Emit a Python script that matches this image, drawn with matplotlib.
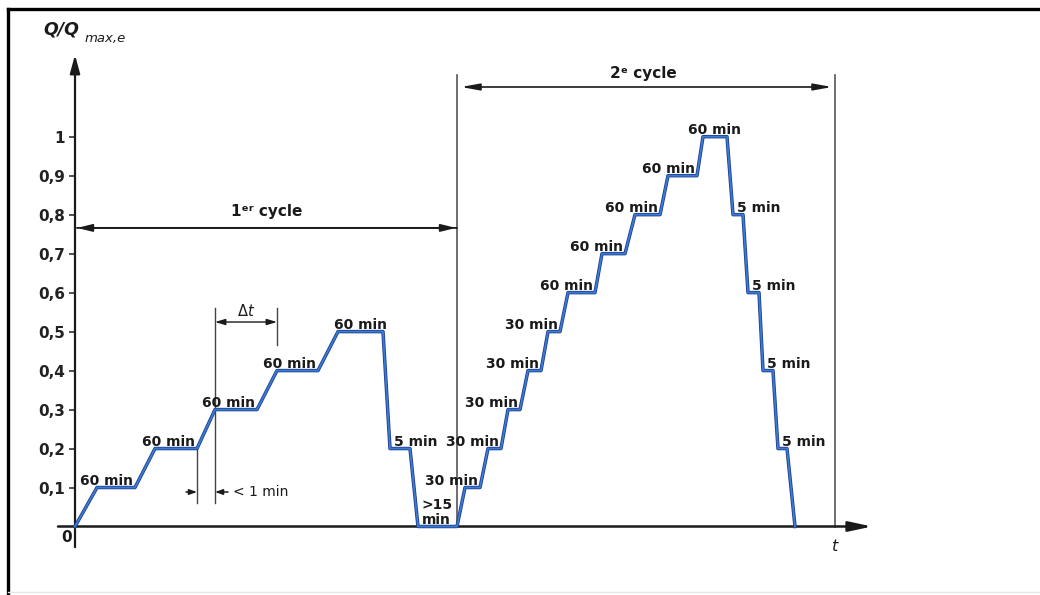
import matplotlib
matplotlib.use("Agg")
import matplotlib.pyplot as plt
import matplotlib.patheffects as pe
from matplotlib.lines import Line2D

# Loading schedule: breakpoints on the (schematic) time axis and relative load Q/Qmax,e
t_sched = [0, 22, 60, 80, 122, 140, 182, 202, 243, 263, 308, 315, 335, 343, 382,
           390, 405, 413, 426, 433, 445, 453, 466, 473, 485, 493, 520, 527, 550,
           560, 585, 593, 622, 628, 652, 658, 668, 673, 684, 688, 698, 703, 712, 720]
q_level = [0.0, 0.1, 0.1, 0.2, 0.2, 0.3, 0.3, 0.4, 0.4, 0.5, 0.5, 0.2, 0.2, 0.0, 0.0,
           0.1, 0.1, 0.2, 0.2, 0.3, 0.3, 0.4, 0.4, 0.5, 0.5, 0.6, 0.6, 0.7, 0.7,
           0.8, 0.8, 0.9, 0.9, 1.0, 1.0, 0.8, 0.8, 0.6, 0.6, 0.4, 0.4, 0.2, 0.2, 0.0]

# Duration of each hold (one label per plateau, in order)
hold_labels = (["60 min"] * 5 + ["5 min", ">15\nmin"] + ["30 min"] * 5
               + ["60 min"] * 5 + ["5 min"] * 4)

cycle2_start = t_sched[14]
cycle_end = 760

y_ticks = [0.1, 0.2, 0.3, 0.4, 0.5, 0.6, 0.7, 0.8, 0.9, 1.0]
y_tick_labels = ["0,1", "0,2", "0,3", "0,4", "0,5", "0,6", "0,7", "0,8", "0,9", "1"]

W, H, DPI = 1040, 595, 100
PX_PER_Q = 389.8          # vertical scale in pixels per unit load
PX = 72.0 / DPI           # one pixel in points

fig = plt.figure(figsize=(W / DPI, H / DPI), dpi=DPI, facecolor="white")
x0_px, y0_px, x1_px, y1_px = 75, 526.5, 872, 58
ax = fig.add_axes([x0_px / W, (H - y0_px) / H, (x1_px - x0_px) / W, (y0_px - y1_px) / H])
ax.set_xlim(0, x1_px - x0_px)
ax.set_ylim(0, (y0_px - y1_px) / PX_PER_Q)
ax.patch.set_alpha(0)
for s in ax.spines.values():
    s.set_visible(False)

ax.set_xticks([])
ax.set_yticks(y_ticks)
ax.set_yticklabels(y_tick_labels, fontsize=11, fontweight="bold", color="#1a1a1a")
ax.tick_params(axis="y", direction="out", length=4, width=1.1, pad=3, colors="#222")

ink = "#1a1a1a"

def arrow(xy_from, xy_to, lw=1.4, hl=1.1, hw=0.3, both=False, color=ink):
    style = "<|-|>" if both else "-|>"
    ax.annotate("", xy=xy_to, xytext=xy_from, annotation_clip=False,
                arrowprops=dict(arrowstyle=f"{style},head_length={hl},head_width={hw}",
                                lw=lw, color=color, shrinkA=0, shrinkB=0,
                                mutation_scale=10))

# Axes with arrow heads
arrow((0, -0.053), (0, 1.21), lw=1.6, hl=1.1, hw=0.3)
arrow((-17, 0), (797, 0), lw=1.8, hl=1.4, hw=0.3)

# Cycle boundaries and spans
for xc in (cycle2_start, cycle_end):
    ax.plot([xc, xc], [0, 1.158], color="#555555", lw=1.2, clip_on=False, zorder=1)
arrow((cycle2_start, 0.766), (2, 0.766), lw=1.3, hl=0.9, hw=0.22)
arrow((2, 0.766), (cycle2_start - 1, 0.766), lw=1.3, hl=0.9, hw=0.22)
ax.text(192, 0.807, "1ᵉʳ cycle", ha="center", va="center", fontsize=11,
        fontweight="bold", color=ink)
arrow((cycle2_start + 4, 1.1275), (cycle_end - 3, 1.1275), lw=1.2, hl=1.1, hw=0.2, both=True)
ax.text(568, 1.1634, "2ᵉ cycle", ha="center", va="center", fontsize=11,
        fontweight="bold", color=ink)

# Load curve
line, = ax.plot(t_sched, q_level, color="#3a7bd5", lw=1.3, solid_joinstyle="round",
                clip_on=False, zorder=4)
line.set_path_effects([pe.Stroke(linewidth=2.5, foreground="#1f3f8c"), pe.Normal()])

# Hold-duration labels on each plateau
plateaus = [(i, i + 1) for i in range(len(t_sched) - 1) if q_level[i] == q_level[i + 1]]
for (a, b), lab in zip(plateaus, hold_labels):
    q = q_level[a]
    prev_q = q_level[a - 1]
    next_q = q_level[b + 1] if b + 1 < len(q_level) else q
    if prev_q > q:                      # descending branch
        x, ha, dx = t_sched[a], "left", 4
    elif next_q < q:                    # peak hold
        x, ha, dx = (t_sched[a] + t_sched[b]) / 2, "center", 0
    else:                               # ascending branch
        x, ha, dx = t_sched[b], "right", -2
    ax.annotate(lab, xy=(x, q), xytext=(dx * PX, 3 * PX), textcoords="offset points",
                ha=ha, va="baseline", fontsize=10, fontweight="bold", color=ink,
                linespacing=1.05, annotation_clip=False, zorder=5)

# Dimension marks for the ramp time and the hold interval
t_hold_end, t_ramp_end, t_next = t_sched[4], t_sched[5], t_sched[7]
ax.plot([t_ramp_end, t_ramp_end], [0.0603, 0.5605], color="#444", lw=1.0, zorder=2)
ax.plot([t_next, t_next], [0.4656, 0.5605], color="#444", lw=1.0, zorder=2)
ax.plot([t_hold_end, t_hold_end], [0.0603, q_level[4]], color="#444", lw=1.0, zorder=2)
arrow((t_ramp_end, 0.5246), (t_next, 0.5246), lw=1.0, hl=0.6, hw=0.18, both=True)
ax.text((t_ramp_end + t_next) / 2, 0.552, r"$\Delta t$", ha="center", va="center",
        fontsize=10.5, color=ink)
arrow((t_hold_end - 11, 0.0885), (t_hold_end, 0.0885), lw=1.1, hl=0.45, hw=0.16)
arrow((t_ramp_end + 13, 0.0885), (t_ramp_end, 0.0885), lw=1.1, hl=0.45, hw=0.16)
ax.text(t_ramp_end + 18, 0.0885, "< 1 min", ha="left", va="center", fontsize=10,
        color=ink)

# Axis labels
ax.text(-8, -0.027, "0", ha="center", va="center", fontsize=11, fontweight="bold", color=ink)
ax.text(cycle_end, -0.052, "t", ha="center", va="center", fontsize=11.5, style="italic",
        color=ink)
ax.text(-32, 1.261, "Q/Q", ha="left", va="baseline", fontsize=12.5, fontweight="bold",
        style="italic", color=ink)
ax.text(10, 1.243, "max,e", ha="left", va="baseline", fontsize=9.5, style="italic",
        color=ink)

# Page frame (top and left rules)
fig.add_artist(Line2D([8 / W, 1.0], [1 - 8.5 / H, 1 - 8.5 / H], color="black", lw=2.4))
fig.add_artist(Line2D([8 / W, 8 / W], [0.0, 1 - 8.5 / H], color="black", lw=2.4))
fig.add_artist(Line2D([8 / W, 1.0], [1 - 592 / H, 1 - 592 / H], color="#e6e6e6", lw=1.0))

fig.savefig("out.png", dpi=DPI, facecolor="white")
